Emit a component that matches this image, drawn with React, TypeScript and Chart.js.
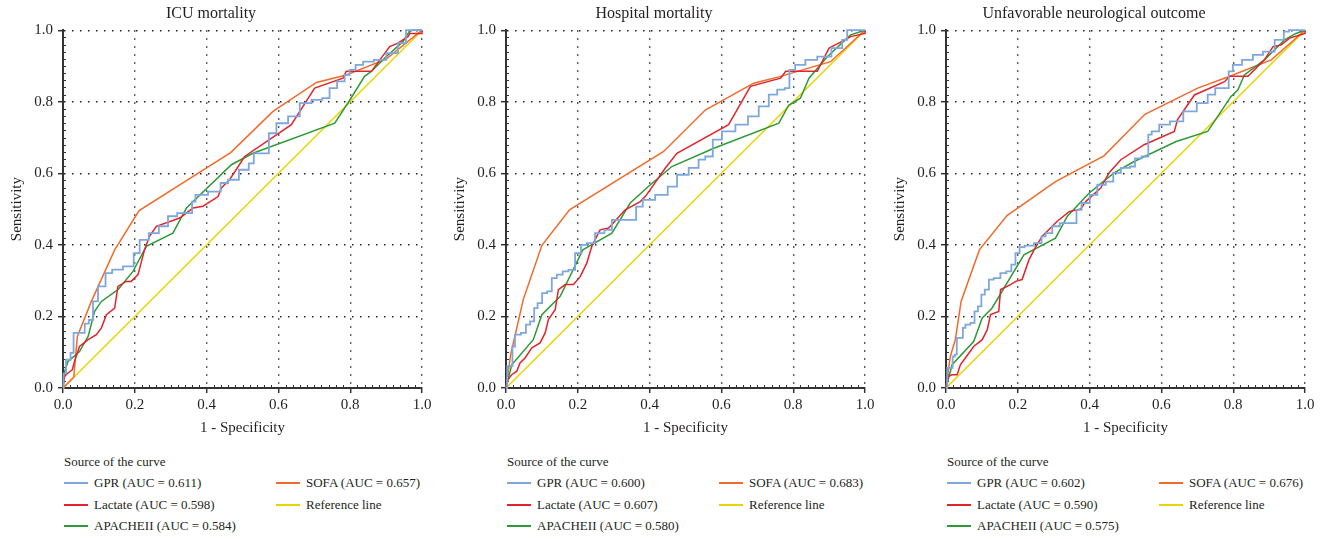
import React, { useEffect, useRef } from "react";
import { Chart, registerables } from "chart.js";
Chart.register(...registerables);

type Pt = [number, number];

const panelTitles = ["ICU mortality", "Hospital mortality", "Unfavorable neurological outcome"];
const seriesNames = ["GPR", "Lactate", "APACHEII", "SOFA"];
const aucICU = [0.611, 0.598, 0.584, 0.657];
const aucHosp = [0.6, 0.607, 0.58, 0.683];
const aucNeuro = [0.602, 0.59, 0.575, 0.676];
const tickValues = [0, 0.2, 0.4, 0.6, 0.8, 1.0];

const icuGPR: Pt[] = [[0,0],[0.003,0.04],[0.014,0.079],[0.028,0.098],[0.031,0.154],[0.056,0.154],[0.065,0.18],[0.079,0.19],[0.088,0.242],[0.107,0.284],[0.13,0.321],[0.144,0.331],[0.19,0.34],[0.204,0.377],[0.223,0.414],[0.255,0.433],[0.279,0.452],[0.306,0.48],[0.33,0.489],[0.357,0.489],[0.362,0.521],[0.376,0.54],[0.432,0.549],[0.446,0.573],[0.474,0.582],[0.506,0.61],[0.529,0.628],[0.534,0.656],[0.571,0.656],[0.576,0.712],[0.613,0.74],[0.641,0.759],[0.678,0.796],[0.706,0.805],[0.738,0.81],[0.747,0.838],[0.78,0.857],[0.789,0.875],[0.808,0.889],[0.822,0.903],[0.85,0.912],[0.882,0.917],[0.919,0.936],[0.947,0.964],[0.964,1],[1,1]];
const icuLactate: Pt[] = [[0,0],[0.005,0.033],[0.014,0.042],[0.026,0.051],[0.032,0.074],[0.046,0.116],[0.07,0.135],[0.093,0.149],[0.107,0.168],[0.121,0.205],[0.144,0.223],[0.153,0.284],[0.176,0.298],[0.19,0.298],[0.209,0.317],[0.227,0.386],[0.241,0.424],[0.26,0.452],[0.325,0.475],[0.362,0.503],[0.39,0.508],[0.432,0.535],[0.441,0.559],[0.464,0.582],[0.506,0.647],[0.636,0.736],[0.701,0.838],[0.78,0.866],[0.789,0.885],[0.859,0.885],[0.91,0.954],[0.933,0.964],[0.961,0.982],[0.966,0.991],[1,0.991],[1,1]];
const icuApache: Pt[] = [[0,0],[0.003,0.042],[0.014,0.074],[0.046,0.102],[0.07,0.144],[0.088,0.214],[0.107,0.242],[0.153,0.275],[0.195,0.326],[0.232,0.396],[0.306,0.433],[0.344,0.503],[0.469,0.624],[0.529,0.656],[0.757,0.74],[0.799,0.805],[0.84,0.871],[0.859,0.885],[0.9,0.926],[0.947,0.968],[0.961,0.991],[0.972,1],[1,1]];
const icuSofa: Pt[] = [[0,0],[0.03,0.03],[0.04,0.144],[0.079,0.242],[0.144,0.386],[0.212,0.496],[0.467,0.658],[0.585,0.773],[0.706,0.854],[0.789,0.875],[0.9,0.919],[1,1]];

const hospGPR: Pt[] = [[0,0],[0.007,0.061],[0.016,0.061],[0.02,0.116],[0.03,0.149],[0.053,0.154],[0.058,0.177],[0.076,0.186],[0.081,0.223],[0.095,0.237],[0.106,0.265],[0.123,0.27],[0.132,0.307],[0.151,0.317],[0.165,0.326],[0.183,0.33],[0.202,0.377],[0.216,0.4],[0.234,0.405],[0.262,0.433],[0.286,0.442],[0.304,0.47],[0.36,0.47],[0.365,0.507],[0.397,0.526],[0.434,0.54],[0.467,0.563],[0.486,0.596],[0.532,0.615],[0.541,0.638],[0.569,0.647],[0.583,0.694],[0.62,0.717],[0.658,0.736],[0.69,0.759],[0.718,0.787],[0.746,0.82],[0.765,0.834],[0.788,0.838],[0.791,0.889],[0.82,0.903],[0.848,0.917],[0.886,0.926],[0.927,0.95],[0.946,0.973],[0.955,1],[1,1]];
const hospLactate: Pt[] = [[0,0],[0.005,0.023],[0.016,0.037],[0.03,0.047],[0.039,0.07],[0.053,0.084],[0.072,0.112],[0.095,0.126],[0.109,0.154],[0.118,0.191],[0.137,0.219],[0.146,0.275],[0.165,0.289],[0.188,0.289],[0.207,0.312],[0.225,0.349],[0.239,0.396],[0.262,0.442],[0.286,0.447],[0.332,0.498],[0.374,0.521],[0.388,0.535],[0.444,0.615],[0.476,0.656],[0.62,0.736],[0.681,0.843],[0.765,0.866],[0.779,0.885],[0.867,0.885],[0.9,0.95],[0.927,0.964],[0.96,0.982],[1,0.991],[1,1]];
const hospApache: Pt[] = [[0,0],[0.016,0.065],[0.076,0.135],[0.1,0.205],[0.151,0.256],[0.214,0.386],[0.295,0.433],[0.346,0.517],[0.402,0.568],[0.462,0.619],[0.579,0.67],[0.76,0.74],[0.788,0.791],[0.82,0.81],[0.844,0.866],[0.895,0.926],[0.96,0.987],[1,1]];
const hospSofa: Pt[] = [[0,0],[0.013,0.093],[0.048,0.247],[0.1,0.399],[0.177,0.498],[0.439,0.661],[0.555,0.777],[0.69,0.852],[0.765,0.871],[0.904,0.912],[1,1]];

const neuroGPR: Pt[] = [[0,0],[0.007,0.056],[0.017,0.056],[0.02,0.088],[0.029,0.093],[0.031,0.14],[0.045,0.14],[0.049,0.168],[0.059,0.177],[0.077,0.182],[0.082,0.214],[0.096,0.228],[0.101,0.261],[0.115,0.275],[0.124,0.303],[0.142,0.307],[0.161,0.321],[0.175,0.326],[0.189,0.345],[0.198,0.377],[0.212,0.394],[0.226,0.398],[0.264,0.405],[0.268,0.424],[0.287,0.433],[0.305,0.452],[0.329,0.461],[0.361,0.461],[0.366,0.498],[0.389,0.517],[0.412,0.54],[0.431,0.568],[0.459,0.577],[0.473,0.601],[0.501,0.615],[0.524,0.619],[0.529,0.642],[0.561,0.647],[0.566,0.708],[0.58,0.717],[0.608,0.736],[0.64,0.745],[0.682,0.773],[0.715,0.796],[0.743,0.82],[0.757,0.838],[0.785,0.838],[0.79,0.885],[0.808,0.903],[0.841,0.917],[0.869,0.931],[0.897,0.94],[0.934,0.973],[0.948,0.996],[0.962,1],[1,1]];
const neuroLactate: Pt[] = [[0,0],[0.007,0.033],[0.017,0.037],[0.031,0.037],[0.04,0.065],[0.054,0.084],[0.077,0.116],[0.101,0.135],[0.115,0.163],[0.124,0.205],[0.147,0.214],[0.152,0.275],[0.18,0.289],[0.194,0.298],[0.212,0.303],[0.231,0.358],[0.248,0.391],[0.268,0.424],[0.31,0.466],[0.343,0.493],[0.375,0.5],[0.389,0.521],[0.431,0.559],[0.454,0.601],[0.487,0.638],[0.552,0.68],[0.636,0.717],[0.645,0.75],[0.692,0.819],[0.776,0.856],[0.79,0.871],[0.841,0.871],[0.887,0.917],[0.911,0.954],[0.934,0.959],[0.957,0.978],[1,0.991],[1,1]];
const neuroApache: Pt[] = [[0,0],[0.017,0.065],[0.077,0.13],[0.101,0.196],[0.128,0.223],[0.217,0.372],[0.305,0.419],[0.338,0.48],[0.399,0.545],[0.468,0.601],[0.524,0.633],[0.641,0.689],[0.729,0.717],[0.794,0.815],[0.813,0.833],[0.831,0.875],[0.887,0.917],[0.943,0.973],[0.975,0.991],[1,1]];
const neuroSofa: Pt[] = [[0,0],[0.012,0.088],[0.026,0.135],[0.042,0.242],[0.093,0.386],[0.17,0.482],[0.305,0.577],[0.44,0.649],[0.554,0.765],[0.701,0.838],[0.785,0.869],[0.906,0.917],[1,1]];

const referenceLine: Pt[] = [[0,0],[1,1]];

const COLORS = { GPR: "#7ea7dd", Lactate: "#e1242c", APACHEII: "#2d9a36", SOFA: "#f26a2a", Reference: "#e8d400" };
const FONT = "'Liberation Serif', 'Times New Roman', serif";
const TEXT = "#231f20";

const panels = [
  { left: 0, title: panelTitles[0], auc: aucICU, series: [icuGPR, icuLactate, icuApache, icuSofa] },
  { left: 443, title: panelTitles[1], auc: aucHosp, series: [hospGPR, hospLactate, hospApache, hospSofa] },
  { left: 883, title: panelTitles[2], auc: aucNeuro, series: [neuroGPR, neuroLactate, neuroApache, neuroSofa] },
];

const CANVAS_W = 440;
const CANVAS_H = 440;
const Y_AXIS_W = 63;
const X_AXIS_H = 52;

const minorTicks = {
  id: "minorTicks",
  beforeDatasetsDraw(chart: any) {
    const { ctx, chartArea, scales } = chart;
    ctx.save();
    ctx.strokeStyle = "#333";
    ctx.lineWidth = 1;
    for (let i = 1; i < 50; i++) {
      if (i % 10 === 0) continue;
      const v = i / 50;
      const px = Math.round(scales.x.getPixelForValue(v)) + 0.5;
      ctx.beginPath();
      ctx.moveTo(px, chartArea.bottom);
      ctx.lineTo(px, chartArea.bottom - 3);
      ctx.stroke();
      const py = Math.round(scales.y.getPixelForValue(v)) + 0.5;
      ctx.beginPath();
      ctx.moveTo(chartArea.left, py);
      ctx.lineTo(chartArea.left + 3, py);
      ctx.stroke();
    }
    ctx.restore();
  },
};

function toXY(a: Pt[]) {
  return a.map(([x, y]) => ({ x, y }));
}

function RocPanel({ p }: { p: (typeof panels)[number] }) {
  const ref = useRef<HTMLCanvasElement>(null);
  useEffect(() => {
    if (!ref.current) return;
    const colorList = [COLORS.GPR, COLORS.Lactate, COLORS.APACHEII, COLORS.SOFA];
    const datasets: any[] = p.series.map((s, i) => ({
      label: seriesNames[i],
      data: toXY(s),
      borderColor: colorList[i],
      borderWidth: i === 0 ? 1.8 : 1.5,
      pointRadius: 0,
      showLine: true,
      fill: false,
      tension: 0,
      stepped: i === 0 ? "middle" : false,
      clip: false,
    }));
    datasets.push({
      label: "Reference line",
      data: toXY(referenceLine),
      borderColor: COLORS.Reference,
      borderWidth: 1.5,
      pointRadius: 0,
      showLine: true,
      fill: false,
      clip: false,
    });
    const axisCommon = (titleText: string, isX: boolean) => ({
      type: "linear",
      min: 0,
      max: 1,
      afterBuildTicks: (scale: any) => {
        scale.ticks = tickValues.map((v) => ({ value: v }));
      },
      afterFit: (scale: any) => {
        if (isX) scale.height = X_AXIS_H;
        else scale.width = Y_AXIS_W;
      },
      ticks: {
        color: TEXT,
        font: { family: FONT, size: 15 },
        padding: isX ? 3 : 5,
        callback: (v: any) => Number(v).toFixed(1),
        maxRotation: 0,
      },
      grid: {
        color: "#222",
        lineWidth: 1.4,
        drawTicks: true,
        tickLength: 5,
        tickColor: "#333",
        tickWidth: 1.5,
        tickBorderDash: [],
      },
      border: { display: true, color: "#333", width: 2, dash: [1.5, 6.5] },
      title: {
        display: true,
        text: titleText,
        color: TEXT,
        font: { family: FONT, size: 15 },
        padding: isX ? { top: 0, bottom: 3 } : { top: 8, bottom: 0 },
      },
    });
    const chart = new Chart(ref.current, {
      type: "scatter",
      data: { datasets },
      plugins: [minorTicks],
      options: {
        responsive: false,
        maintainAspectRatio: false,
        animation: false,
        layout: { padding: { left: 0, right: CANVAS_W - Y_AXIS_W - 359, top: 0, bottom: 0 } },
        plugins: {
          legend: { display: false },
          tooltip: { enabled: false },
          title: {
            display: true,
            text: p.title,
            color: TEXT,
            font: { family: FONT, size: 16, weight: "normal" },
            padding: { top: 4, bottom: 7 },
          },
        },
        scales: {
          x: axisCommon("1 - Specificity", true) as any,
          y: axisCommon("Sensitivity", false) as any,
        },
      } as any,
    });
    return () => chart.destroy();
  }, [p]);

  const legendLeft = p.left + Y_AXIS_W;
  const items = [
    { name: `${seriesNames[0]} (AUC = ${p.auc[0].toFixed(3)})`, color: COLORS.GPR, col: 0, row: 0 },
    { name: `${seriesNames[3]} (AUC = ${p.auc[3].toFixed(3)})`, color: COLORS.SOFA, col: 1, row: 0 },
    { name: `${seriesNames[1]} (AUC = ${p.auc[1].toFixed(3)})`, color: COLORS.Lactate, col: 0, row: 1 },
    { name: "Reference line", color: COLORS.Reference, col: 1, row: 1 },
    { name: `${seriesNames[2]} (AUC = ${p.auc[2].toFixed(3)})`, color: COLORS.APACHEII, col: 0, row: 2 },
  ];
  const rowY = [483, 504.5, 526];
  return (
    <>
      <canvas
        ref={ref}
        width={CANVAS_W}
        height={CANVAS_H}
        style={{ position: "absolute", left: p.left, top: 0, width: CANVAS_W, height: CANVAS_H }}
      />
      <div
        style={{
          position: "absolute",
          left: legendLeft + 1,
          top: 462 - 8,
          height: 16,
          lineHeight: "16px",
          fontFamily: FONT,
          fontSize: 13,
          color: TEXT,
          whiteSpace: "nowrap",
        }}
      >
        Source of the curve
      </div>
      {items.map((it, i) => (
        <div
          key={i}
          style={{
            position: "absolute",
            left: legendLeft + 1 + it.col * 212,
            top: rowY[it.row] - 8,
            height: 16,
            display: "flex",
            alignItems: "center",
            fontFamily: FONT,
            fontSize: 13,
            color: TEXT,
            whiteSpace: "nowrap",
          }}
        >
          <span style={{ display: "inline-block", width: 24, height: 2, background: it.color, marginRight: 6 }} />
          <span style={{ lineHeight: "16px" }}>{it.name}</span>
        </div>
      ))}
    </>
  );
}

export default function App() {
  return (
    <div style={{ position: "absolute", left: 0, top: 0, width: 1325, height: 539, background: "#fff", overflow: "hidden" }}>
      {panels.map((p, i) => (
        <RocPanel key={i} p={p} />
      ))}
    </div>
  );
}
